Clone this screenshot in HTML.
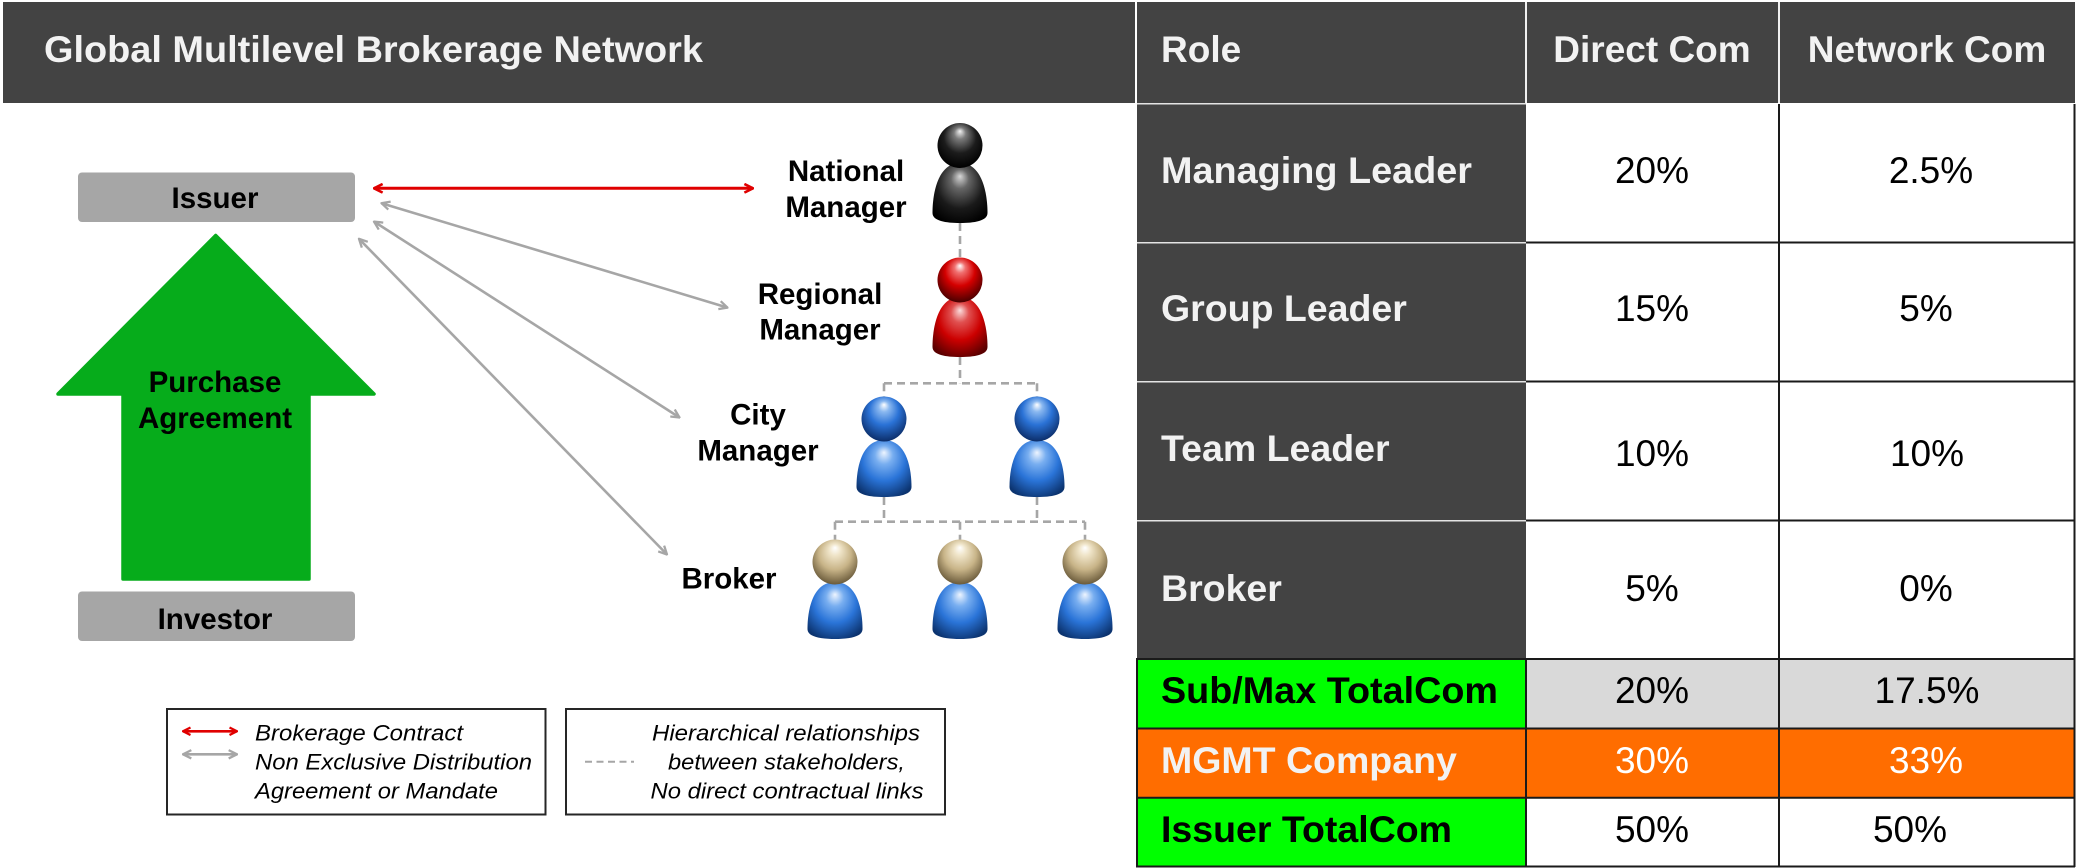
<!DOCTYPE html>
<html>
<head>
<meta charset="utf-8">
<style>
  html,body{margin:0;padding:0;background:#fff;}
  body{width:2076px;height:868px;overflow:hidden;}
  svg{display:block;}
  text{font-family:"Liberation Sans",Arial,sans-serif;}
</style>
</head>
<body>
<svg width="2076" height="868" viewBox="0 0 2076 868" xmlns="http://www.w3.org/2000/svg">
  <defs>
    <!-- head gradients -->
    <radialGradient id="hBlack" cx="0.5" cy="0.4" r="0.6" fx="0.5" fy="0.18">
      <stop offset="0" stop-color="#f4f4f4"/>
      <stop offset="0.22" stop-color="#7a7a7a"/>
      <stop offset="0.6" stop-color="#1c1c1c"/>
      <stop offset="1" stop-color="#000"/>
    </radialGradient>
    <radialGradient id="bBlack" cx="0.5" cy="0.4" r="0.65" fx="0.5" fy="0.22">
      <stop offset="0" stop-color="#d8d8d8"/>
      <stop offset="0.25" stop-color="#666"/>
      <stop offset="0.65" stop-color="#1a1a1a"/>
      <stop offset="1" stop-color="#000"/>
    </radialGradient>
    <radialGradient id="hRed" cx="0.5" cy="0.4" r="0.6" fx="0.5" fy="0.18">
      <stop offset="0" stop-color="#ffffff"/>
      <stop offset="0.2" stop-color="#f07070"/>
      <stop offset="0.55" stop-color="#d40000"/>
      <stop offset="1" stop-color="#4a0000"/>
    </radialGradient>
    <radialGradient id="bRed" cx="0.5" cy="0.4" r="0.65" fx="0.5" fy="0.22">
      <stop offset="0" stop-color="#fbdede"/>
      <stop offset="0.25" stop-color="#e05050"/>
      <stop offset="0.6" stop-color="#cc0000"/>
      <stop offset="1" stop-color="#5a0000"/>
    </radialGradient>
    <radialGradient id="hBlue" cx="0.5" cy="0.4" r="0.6" fx="0.5" fy="0.18">
      <stop offset="0" stop-color="#ffffff"/>
      <stop offset="0.2" stop-color="#8ab8f0"/>
      <stop offset="0.55" stop-color="#2a72d6"/>
      <stop offset="1" stop-color="#0c2e6a"/>
    </radialGradient>
    <radialGradient id="bBlue" cx="0.5" cy="0.4" r="0.65" fx="0.5" fy="0.22">
      <stop offset="0" stop-color="#eef5ff"/>
      <stop offset="0.25" stop-color="#78aef0"/>
      <stop offset="0.6" stop-color="#2a74d8"/>
      <stop offset="1" stop-color="#0c3470"/>
    </radialGradient>
    <radialGradient id="hBeige" cx="0.5" cy="0.4" r="0.6" fx="0.5" fy="0.18">
      <stop offset="0" stop-color="#ffffff"/>
      <stop offset="0.22" stop-color="#efe4c8"/>
      <stop offset="0.6" stop-color="#c8b488"/>
      <stop offset="1" stop-color="#6a5a3a"/>
    </radialGradient>

    <marker id="mGray" viewBox="0 0 10 10" refX="9" refY="5" markerWidth="4" markerHeight="4" orient="auto-start-reverse" markerUnits="strokeWidth">
      <path d="M1,1 L9,5 L1,9" fill="none" stroke="#a6a6a6" stroke-width="2.2"/>
    </marker>
    <marker id="mRed" viewBox="0 0 10 10" refX="9" refY="5" markerWidth="3.6" markerHeight="3.6" orient="auto-start-reverse" markerUnits="strokeWidth">
      <path d="M1,1 L9,5 L1,9" fill="none" stroke="#e00000" stroke-width="2.4"/>
    </marker>
  </defs>

  <!-- ===== LEFT HEADER ===== -->
  <rect x="3" y="2" width="1132" height="101" fill="#434343"/>
  <text x="44" y="62" font-size="37" font-weight="bold" fill="#f2f2f2" textLength="659" lengthAdjust="spacingAndGlyphs">Global Multilevel Brokerage Network</text>

  <!-- ===== TABLE ===== -->
  <!-- header row -->
  <rect x="1137" y="2" width="938" height="101" fill="#434343"/>
  <rect x="1525" y="2" width="2" height="101" fill="#f0f0f0"/>
  <rect x="1778" y="2" width="2" height="101" fill="#f0f0f0"/>
  <text x="1161" y="62" font-size="37" font-weight="bold" fill="#f2f2f2">Role</text>
  <text x="1652" y="62" font-size="37" font-weight="bold" fill="#f2f2f2" text-anchor="middle">Direct Com</text>
  <text x="1927" y="62" font-size="37" font-weight="bold" fill="#f2f2f2" text-anchor="middle">Network Com</text>

  <!-- role dark cells -->
  <rect x="1137" y="104" width="389" height="555" fill="#434343"/>
  <rect x="1137" y="103" width="389" height="1.5" fill="#e4e4e4"/>
  <rect x="1137" y="242" width="389" height="1.5" fill="#e4e4e4"/>
  <rect x="1137" y="381" width="389" height="1.5" fill="#e4e4e4"/>
  <rect x="1137" y="520" width="389" height="1.5" fill="#e4e4e4"/>

  <!-- data white area -->
  <rect x="1526" y="104" width="549" height="555" fill="#fff"/>
  <!-- bottom colored rows -->
  <rect x="1137" y="659" width="389" height="70" fill="#00ff00"/>
  <rect x="1526" y="659" width="549" height="70" fill="#d9d9d9"/>
  <rect x="1137" y="729" width="938" height="69" fill="#ff6d00"/>
  <rect x="1137" y="798" width="389" height="69" fill="#00ff00"/>
  <rect x="1526" y="798" width="549" height="69" fill="#fff"/>

  <!-- black grid lines -->
  <g stroke="#1a1a1a" stroke-width="2" fill="none">
    <line x1="1526" y1="242.5" x2="2075" y2="242.5"/>
    <line x1="1526" y1="381.5" x2="2075" y2="381.5"/>
    <line x1="1526" y1="520.5" x2="2075" y2="520.5"/>
    <line x1="1136" y1="659" x2="2075" y2="659"/>
    <line x1="1136" y1="728.5" x2="2075" y2="728.5"/>
    <line x1="1136" y1="797.7" x2="2075" y2="797.7"/>
    <line x1="1136" y1="866.5" x2="2075" y2="866.5"/>
    <line x1="1779" y1="104" x2="1779" y2="867"/>
    <line x1="2074.5" y1="104" x2="2074.5" y2="867"/>
    <line x1="1526" y1="659" x2="1526" y2="867"/>
    <line x1="1137" y1="659" x2="1137" y2="867"/>
  </g>

  <!-- role texts -->
  <g font-size="37.5" font-weight="bold" fill="#f2f2f2">
    <text x="1161" y="183" textLength="311" lengthAdjust="spacingAndGlyphs">Managing Leader</text>
    <text x="1161" y="321">Group Leader</text>
    <text x="1161" y="461">Team Leader</text>
    <text x="1161" y="601">Broker</text>
  </g>
  <text x="1161" y="703" font-size="37.5" font-weight="bold" fill="#000" textLength="337" lengthAdjust="spacingAndGlyphs">Sub/Max TotalCom</text>
  <text x="1161" y="773" font-size="37.5" font-weight="bold" fill="#f2f2f2">MGMT Company</text>
  <text x="1161" y="842" font-size="37.5" font-weight="bold" fill="#000">Issuer TotalCom</text>

  <!-- values -->
  <g font-size="37" fill="#000" text-anchor="middle">
    <text x="1652" y="183">20%</text>
    <text x="1931" y="183">2.5%</text>
    <text x="1652" y="321">15%</text>
    <text x="1926" y="321">5%</text>
    <text x="1652" y="466">10%</text>
    <text x="1927" y="466">10%</text>
    <text x="1652" y="601">5%</text>
    <text x="1926" y="601">0%</text>
    <text x="1652" y="703">20%</text>
    <text x="1927" y="703">17.5%</text>
    <text x="1652" y="842">50%</text>
    <text x="1910" y="842">50%</text>
  </g>
  <g font-size="37" fill="#ffffff" text-anchor="middle">
    <text x="1652" y="773">30%</text>
    <text x="1926" y="773">33%</text>
  </g>

  <!-- ===== LEFT DIAGRAM ===== -->
  <!-- Issuer / Investor boxes -->
  <rect x="78" y="172.5" width="277" height="49.5" rx="4" fill="#a6a6a6"/>
  <text x="215" y="208" font-size="29.5" font-weight="bold" fill="#000" text-anchor="middle">Issuer</text>
  <rect x="78" y="591.5" width="277" height="49.5" rx="4" fill="#a6a6a6"/>
  <text x="215" y="629" font-size="29.5" font-weight="bold" fill="#000" text-anchor="middle">Investor</text>

  <!-- Green arrow -->
  <path d="M215.7,235.5 L374,394 L309,394 L309,579 L123,579 L123,394 L58,394 Z"
        fill="#06ac1b" stroke="#06ac1b" stroke-width="3.5" stroke-linejoin="round"/>
  <text x="215" y="392" font-size="29.5" font-weight="bold" fill="#000" text-anchor="middle">Purchase</text>
  <text x="215" y="428" font-size="29.5" font-weight="bold" fill="#000" text-anchor="middle">Agreement</text>

  <!-- Red brokerage arrow -->
  <line x1="374" y1="188.3" x2="753" y2="188.3" stroke="#e00000" stroke-width="3" marker-start="url(#mRed)" marker-end="url(#mRed)"/>

  <!-- Gray arrows -->
  <g stroke="#a6a6a6" stroke-width="2.6" fill="none">
    <line x1="381.5" y1="203.2" x2="727.5" y2="307.6" marker-start="url(#mGray)" marker-end="url(#mGray)"/>
    <line x1="374" y1="221.6" x2="679.5" y2="417.5" marker-start="url(#mGray)" marker-end="url(#mGray)"/>
    <line x1="359" y1="238.8" x2="667" y2="554.5" marker-start="url(#mGray)" marker-end="url(#mGray)"/>
  </g>

  <!-- Hierarchy dashed connectors -->
  <g stroke="#a6a6a6" stroke-width="2.6" fill="none" stroke-dasharray="8 5">
    <line x1="960" y1="223" x2="960" y2="258"/>
    <line x1="960" y1="357" x2="960" y2="383.3"/>
    <line x1="884" y1="383.3" x2="1037" y2="383.3"/>
    <line x1="884" y1="383.3" x2="884" y2="397"/>
    <line x1="1037" y1="383.3" x2="1037" y2="397"/>
    <line x1="884" y1="497" x2="884" y2="521.7"/>
    <line x1="1037" y1="497" x2="1037" y2="521.7"/>
    <line x1="835" y1="521.7" x2="1085" y2="521.7"/>
    <line x1="835" y1="521.7" x2="835" y2="540"/>
    <line x1="960" y1="521.7" x2="960" y2="540"/>
    <line x1="1085" y1="521.7" x2="1085" y2="540"/>
  </g>

  <!-- People icons -->
  <!-- National (black) -->
  <path d="M932.5,213 C932.5,193 938,163 960,163 C982,163 987.5,193 987.5,213 C987.5,221 974,223 960,223 C946,223 932.5,221 932.5,213 Z" fill="url(#bBlack)"/>
  <circle cx="960" cy="145.5" r="22.5" fill="url(#hBlack)"/>
  <!-- Regional (red) -->
  <path d="M932.5,347 C932.5,327 938,297 960,297 C982,297 987.5,327 987.5,347 C987.5,355 974,357 960,357 C946,357 932.5,355 932.5,347 Z" fill="url(#bRed)"/>
  <circle cx="960" cy="280" r="22.5" fill="url(#hRed)"/>
  <!-- City 1 -->
  <path d="M856.5,487 C856.5,467 862,440 884,440 C906,440 911.5,467 911.5,487 C911.5,495 898,497 884,497 C870,497 856.5,495 856.5,487 Z" fill="url(#bBlue)"/>
  <circle cx="884" cy="419" r="22.5" fill="url(#hBlue)"/>
  <!-- City 2 -->
  <path d="M1009.5,487 C1009.5,467 1015,440 1037,440 C1059,440 1064.5,467 1064.5,487 C1064.5,495 1051,497 1037,497 C1023,497 1009.5,495 1009.5,487 Z" fill="url(#bBlue)"/>
  <circle cx="1037" cy="419" r="22.5" fill="url(#hBlue)"/>
  <!-- Brokers -->
  <path d="M807.5,629 C807.5,609 813,582 835,582 C857,582 862.5,609 862.5,629 C862.5,637 849,639 835,639 C821,639 807.5,637 807.5,629 Z" fill="url(#bBlue)"/>
  <circle cx="835" cy="562" r="22.5" fill="url(#hBeige)"/>
  <path d="M932.5,629 C932.5,609 938,582 960,582 C982,582 987.5,609 987.5,629 C987.5,637 974,639 960,639 C946,639 932.5,637 932.5,629 Z" fill="url(#bBlue)"/>
  <circle cx="960" cy="562" r="22.5" fill="url(#hBeige)"/>
  <path d="M1057.5,629 C1057.5,609 1063,582 1085,582 C1107,582 1112.5,609 1112.5,629 C1112.5,637 1099,639 1085,639 C1071,639 1057.5,637 1057.5,629 Z" fill="url(#bBlue)"/>
  <circle cx="1085" cy="562" r="22.5" fill="url(#hBeige)"/>

  <!-- Role labels -->
  <g font-size="29.5" font-weight="bold" fill="#000" text-anchor="middle">
    <text x="846" y="181">National</text>
    <text x="846" y="217">Manager</text>
    <text x="820" y="304">Regional</text>
    <text x="820" y="339.5">Manager</text>
    <text x="758" y="424.5">City</text>
    <text x="758" y="460.5">Manager</text>
    <text x="729" y="588.5">Broker</text>
  </g>

  <!-- Legend box 1 -->
  <rect x="167" y="709" width="378.5" height="105.5" fill="#fff" stroke="#262626" stroke-width="2"/>
  <line x1="183" y1="731.3" x2="237" y2="731.3" stroke="#e00000" stroke-width="2.6" marker-start="url(#mRed)" marker-end="url(#mRed)"/>
  <line x1="183" y1="754.3" x2="237" y2="754.3" stroke="#a6a6a6" stroke-width="2.6" marker-start="url(#mGray)" marker-end="url(#mGray)"/>
  <g font-size="22.5" font-style="italic" fill="#000">
    <text x="255" y="740.5" textLength="208" lengthAdjust="spacingAndGlyphs">Brokerage Contract</text>
    <text x="255" y="769.3" textLength="277" lengthAdjust="spacingAndGlyphs">Non Exclusive Distribution</text>
    <text x="255" y="798.3" textLength="243" lengthAdjust="spacingAndGlyphs">Agreement or Mandate</text>
  </g>

  <!-- Legend box 2 -->
  <rect x="566" y="709" width="379" height="105.5" fill="#fff" stroke="#262626" stroke-width="2"/>
  <line x1="585" y1="761.7" x2="634" y2="761.7" stroke="#a6a6a6" stroke-width="2" stroke-dasharray="7 4.5"/>
  <g font-size="22.5" font-style="italic" fill="#000">
    <text x="652" y="740.5" textLength="268" lengthAdjust="spacingAndGlyphs">Hierarchical relationships</text>
    <text x="668" y="769.3" textLength="237" lengthAdjust="spacingAndGlyphs">between stakeholders,</text>
    <text x="650.5" y="798.3" textLength="273" lengthAdjust="spacingAndGlyphs">No direct contractual links</text>
  </g>
</svg>
</body>
</html>
